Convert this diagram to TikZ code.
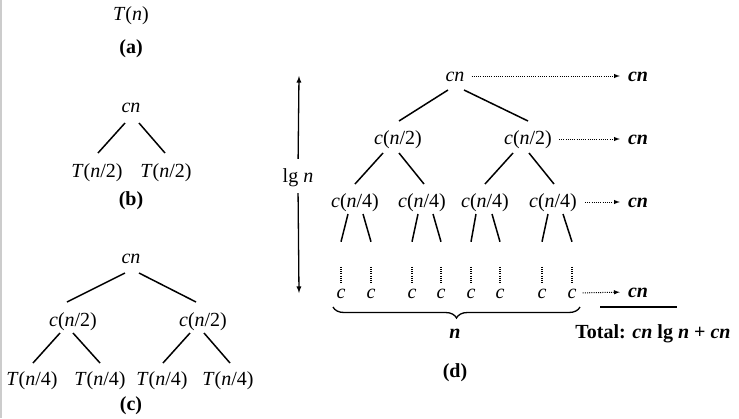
\documentclass[tikz,border=0pt]{standalone}
\usepackage{fontspec}
\setmainfont{Liberation Serif}
\usepackage{tikz}
\usetikzlibrary{decorations.pathreplacing}

\begin{document}
\begin{tikzpicture}[x=1pt,y=-1pt,>=latex,
  every node/.style={inner sep=0pt,text height=14pt,text depth=4pt,font=\fontsize{20}{24}\selectfont},
  edge/.style={line width=1.5pt},
  fine dots/.style={dash pattern=on 1pt off 1.2pt},
  dotarrow/.style={fine dots,line width=1pt,->},
  bf/.style={font=\fontsize{20}{24}\selectfont\bfseries}]

\useasboundingbox (0,0) rectangle (739,418);
\draw[gray!40,line width=1.5pt] (0.75,0) -- (0.75,418);

% (a)
\node (a0) at (131,15) {\textit{T}(\textit{n})};
\node[bf] (la) at (131,48) {(a)};

% (b)
\node (b0) at (131,107) {\textit{cn}};
\node (b1) at (97,172) {\textit{T}(\textit{n}/2)};
\node (b2) at (166,172) {\textit{T}(\textit{n}/2)};
\node[bf] (lb) at (131,200) {(b)};
\draw[edge] ([shift={(-6,16)}]b0.center) -- ([shift={(1,-19)}]b1.center);
\draw[edge] ([shift={(8,16)}]b0.center) -- ([shift={(-1,-19)}]b2.center);

% (c)
\node (c0) at (131,258) {\textit{cn}};
\node (c1) at (73,321) {\textit{c}(\textit{n}/2)};
\node (c2) at (203,321) {\textit{c}(\textit{n}/2)};
\node (c3) at (32,380) {\textit{T}(\textit{n}/4)};
\node (c4) at (100,380) {\textit{T}(\textit{n}/4)};
\node (c5) at (162,380) {\textit{T}(\textit{n}/4)};
\node (c6) at (228,380) {\textit{T}(\textit{n}/4)};
\node[bf] (lc) at (131,405) {(c)};
\draw[edge] ([shift={(-6,15)}]c0.center) -- ([shift={(-6,-19)}]c1.center);
\draw[edge] ([shift={(8,15)}]c0.center) -- ([shift={(-7,-19)}]c2.center);
\draw[edge] ([shift={(-13,12)}]c1.center) -- ([shift={(1,-17)}]c3.center);
\draw[edge] ([shift={(0,12)}]c1.center) -- ([shift={(0,-17)}]c4.center);
\draw[edge] ([shift={(-13,12)}]c2.center) -- ([shift={(1,-17)}]c5.center);
\draw[edge] ([shift={(1,12)}]c2.center) -- ([shift={(2,-17)}]c6.center);

% (d)
\node (d0) at (455,76) {\textit{cn}};
\node (d1) at (398,139) {\textit{c}(\textit{n}/2)};
\node (d2) at (528,139) {\textit{c}(\textit{n}/2)};
\node (d3) at (355,202) {\textit{c}(\textit{n}/4)};
\node (d4) at (422,202) {\textit{c}(\textit{n}/4)};
\node (d5) at (485,202) {\textit{c}(\textit{n}/4)};
\node (d6) at (553,202) {\textit{c}(\textit{n}/4)};
\draw[edge] ([shift={(-7,14)}]d0.center) -- ([shift={(1,-18)}]d1.center);
\draw[edge] ([shift={(9,14)}]d0.center) -- ([shift={(0,-18)}]d2.center);
\draw[edge] ([shift={(-15,14)}]d1.center) -- ([shift={(0,-18)}]d3.center);
\draw[edge] ([shift={(1,14)}]d1.center) -- ([shift={(2,-18)}]d4.center);
\draw[edge] ([shift={(-15,14)}]d2.center) -- ([shift={(0,-18)}]d5.center);
\draw[edge] ([shift={(1,14)}]d2.center) -- ([shift={(1,-18)}]d6.center);

% leaves
\foreach \x/\p/\s [count=\i] in {341/d3/-7,371/d3/8,412/d4/-4,441/d4/11,471/d5/-9,500/d5/7,542/d6/-5,572/d6/10}{
  \node (e\i) at (\x,293) {\textit{c}};
  \draw[edge] ([shift={(\s,12)}]\p.center) -- ([shift={(0,-42)}]e\i.north);
  \draw[fine dots,line width=1.2pt] ([shift={(0,-17)}]e\i.north) -- ([shift={(0,-1)}]e\i.north);
}

\node[bf] (r0) at (638,76) {\textit{cn}};
\node[bf] (r1) at (638,139) {\textit{cn}};
\node[bf] (r2) at (638,202) {\textit{cn}};
\node[bf] (r3) at (638,292) {\textit{cn}};
\draw[dotarrow,shorten <=7pt,shorten >=8pt] (d0.east) -- (r0.west);
\draw[dotarrow,shorten <=7pt,shorten >=8pt] (d2.east) -- (r1.west);
\draw[dotarrow,shorten <=8pt,shorten >=8pt] (d6.east) -- (r2.west);
\draw[dotarrow,shorten <=6pt,shorten >=8pt] (e8.east) -- (r3.west);

\draw[line width=1.5pt] (600,307) -- (677,307);
\node[bf] (tot) at (653,333) {Total: \textit{cn} lg \textit{n} + \textit{cn}};

\draw[line width=1.3pt,decorate,decoration={brace,mirror,amplitude=11pt}]
  ([shift={(-8,14)}]e1.center) -- ([shift={(8,14)}]e8.center);
\node[bf] (nn) at (455,333) {\textit{n}};
\node[bf] (ld) at (455,372) {(d)};

% height arrow
\node (lg) at (298,177) {lg \textit{n}};
\coordinate (top) at (299,76);
\coordinate (bot) at (299,293);
\draw[->,line width=1.3pt,shorten <=9pt] (lg.north) -- (top);
\draw[->,line width=1.3pt,shorten <=7pt] (lg.south) -- (bot);

\end{tikzpicture}
\end{document}
